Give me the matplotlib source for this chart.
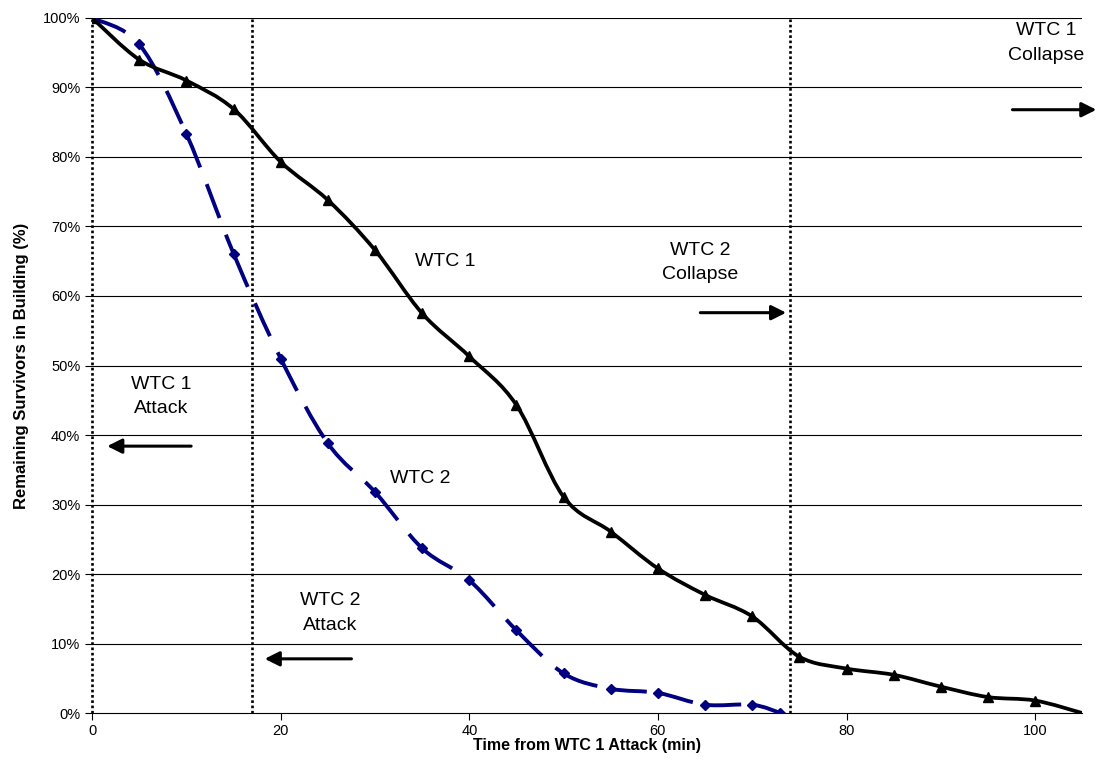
import numpy as np
import matplotlib
matplotlib.use("Agg")
import matplotlib.pyplot as plt
from matplotlib.path import Path
from matplotlib.patches import PathPatch
from matplotlib.ticker import FuncFormatter

plt.rcParams["font.family"] = ["Liberation Sans", "DejaVu Sans"]

# survivors remaining (%) vs minutes after WTC 1 attack
wtc1_t = [0, 5, 10, 15, 20, 25, 30, 35, 40, 45, 50, 55, 60, 65, 70, 75, 80, 85, 90, 95, 100, 105]
wtc1 = [100, 94.0, 91.0, 86.9, 79.3, 73.8, 66.6, 57.5, 51.3, 44.3, 31.1, 26.1, 20.8, 17.0, 13.9,
        8.1, 6.4, 5.5, 3.8, 2.3, 1.8, 0]
wtc2_t = [0, 5, 10, 15, 20, 25, 30, 35, 40, 45, 50, 55, 60, 65, 70, 73]
wtc2 = [100, 96.2, 83.3, 66.1, 51.0, 38.8, 31.8, 23.7, 19.1, 11.9, 5.7, 3.5, 2.9, 1.2, 1.2, 0]

events = [0, 17, 74]  # WTC1 attack, WTC2 attack, WTC2 collapse


def bezier_pieces(xs, ys):
    # excel-style smoothed line: catmull-rom turned into cubic beziers
    pts = np.column_stack([xs, ys]).astype(float)
    n = len(pts)
    out = []
    for i in range(n - 1):
        p0 = pts[i - 1] if i > 0 else pts[i]
        p1, p2 = pts[i], pts[i + 1]
        p3 = pts[i + 2] if i + 2 < n else pts[i + 1]
        out.append((p1, p1 + (p2 - p0) / 6, p2 - (p3 - p1) / 6, p2))
    return out


def full_path(pieces):
    verts = [pieces[0][0]]
    codes = [Path.MOVETO]
    for _, c1, c2, p2 in pieces:
        verts += [c1, c2, p2]
        codes += [Path.CURVE4] * 3
    return Path(verts, codes)


fig = plt.figure(figsize=(11.1, 7.81), dpi=100)
ax = fig.add_axes([0.083, 0.087, 0.892, 0.890])

ax.set_xlim(0, 105)
ax.set_ylim(0, 100)

for y in range(10, 101, 10):
    ax.axhline(y, color="black", lw=0.8, zorder=1)

for x in events:
    ax.plot([x, x], [0, 100], color="black", lw=1.9, linestyle=(0, (1, 1)), zorder=2, clip_on=False)

# WTC 1 - solid black
ax.add_patch(PathPatch(full_path(bezier_pieces(wtc1_t, wtc1)), facecolor="none", edgecolor="black",
                       lw=2.7, capstyle="round", joinstyle="round", zorder=4))
ax.plot(wtc1_t[:-1], wtc1[:-1], linestyle="none", marker="^", ms=7, color="black", zorder=5)

# WTC 2 - dashed navy, the dash pattern restarts at every point
for piece in bezier_pieces(wtc2_t, wtc2):
    ax.add_patch(PathPatch(full_path([piece]), facecolor="none", edgecolor="#000080", lw=2.8,
                           linestyle=(0, (9.3, 4.6)), capstyle="butt", zorder=3))
ax.plot(wtc2_t, wtc2, linestyle="none", marker="D", ms=5.5, color="#000080", zorder=4)

# annotations
txt = dict(fontsize=14, ha="center", va="center", multialignment="center", linespacing=1.55, zorder=6)
ax.text(37.4, 65.0, "WTC 1", **txt)
ax.text(34.8, 33.8, "WTC 2", **txt)
ax.text(7.3, 45.6, "WTC 1\nAttack", **txt)
ax.text(25.2, 14.4, "WTC 2\nAttack", **txt)
ax.text(64.5, 64.8, "WTC 2\nCollapse", **txt)
ax.text(101.2, 96.4, "WTC 1\nCollapse", clip_on=False, **txt)

arrow = dict(arrowstyle="-|>", color="black", lw=2.2, mutation_scale=22, shrinkA=0, shrinkB=0)
ax.annotate("", xy=(1.6, 38.4), xytext=(10.5, 38.4), arrowprops=arrow)
ax.annotate("", xy=(18.3, 7.8), xytext=(27.5, 7.8), arrowprops=arrow)
ax.annotate("", xy=(73.6, 57.6), xytext=(64.5, 57.6), arrowprops=arrow)
ax.annotate("", xy=(106.5, 86.8), xytext=(97.6, 86.8), arrowprops=arrow,
            annotation_clip=False)

ax.set_xticks(range(0, 101, 20))
ax.set_yticks(range(0, 101, 10))
ax.yaxis.set_major_formatter(FuncFormatter(lambda v, p: f"{v:.0f}%"))
ax.tick_params(axis="both", labelsize=10.5, length=5, width=0.8, color="black", direction="out")
ax.tick_params(axis="x", pad=3)

for s in ["top", "right", "left"]:
    ax.spines[s].set_visible(False)
ax.spines["bottom"].set_linewidth(0.8)

ax.set_xlabel("Time from WTC 1 Attack (min)", fontsize=11.5, fontweight="bold", labelpad=0)
ax.set_ylabel("Remaining Survivors in Building (%)", fontsize=12, fontweight="bold", labelpad=10)

fig.savefig("out.png", dpi=100)
